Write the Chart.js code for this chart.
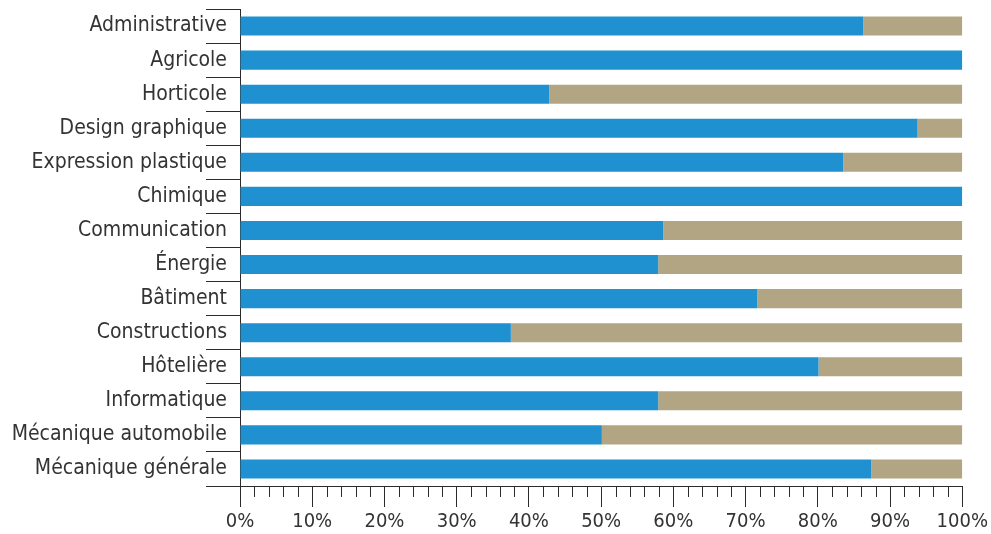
<!DOCTYPE html>
<html lang="fr">
<head>
    <meta charset="UTF-8">
    <title>Répartition par filière</title>
    <script src="https://cdn.jsdelivr.net/npm/chart.js"></script>
    <style>
        body { margin: 0; background: #fff; }
        #wrap { width: 991px; height: 534px; }
    </style>
</head>
<body>
    <div id="wrap"><canvas id="chart"></canvas></div>

    <script>
        const categories = [
            'Administrative', 'Agricole', 'Horticole', 'Design graphique',
            'Expression plastique', 'Chimique', 'Communication', 'Énergie',
            'Bâtiment', 'Constructions', 'Hôtelière', 'Informatique',
            'Mécanique automobile', 'Mécanique générale'
        ];
        const blueValues = [86.3, 100, 42.8, 93.8, 83.5, 100, 58.6, 57.9, 71.6, 37.5, 80.1, 57.9, 50.1, 87.4];
        const tanValues  = [13.7, 0, 57.2, 6.2, 16.5, 0, 41.4, 42.1, 28.4, 62.5, 19.9, 42.1, 49.9, 12.6];
        const xTickLabels = ['0%', '10%', '20%', '30%', '40%', '50%', '60%', '70%', '80%', '90%', '100%'];

        const FONT = "'Liberation Sans Narrow', 'DejaVu Sans Condensed', sans-serif";
        const AXIS = '#2b2b2b';

        // minor ticks every 2% are shorter than the major ones
        const minorTicks = {
            id: 'minorTicks',
            afterDraw(chart) {
                const x = chart.scales.x;
                const ctx = chart.ctx;
                const top = chart.chartArea.bottom;
                ctx.save();
                ctx.strokeStyle = AXIS;
                ctx.lineWidth = 1;
                for (let v = 0; v <= 100; v += 2) {
                    if (v % 10 === 0) continue;
                    const px = Math.round(x.getPixelForValue(v)) + 0.5;
                    ctx.beginPath();
                    ctx.moveTo(px, top);
                    ctx.lineTo(px, top + 11);
                    ctx.stroke();
                }
                ctx.restore();
            }
        };

        new Chart(document.getElementById('chart'), {
            type: 'bar',
            data: {
                labels: categories,
                datasets: [
                    { data: blueValues, backgroundColor: '#1f91d0', barPercentage: 0.56, categoryPercentage: 1 },
                    { data: tanValues, backgroundColor: '#b2a584', barPercentage: 0.56, categoryPercentage: 1 }
                ]
            },
            options: {
                indexAxis: 'y',
                responsive: true,
                maintainAspectRatio: false,
                animation: false,
                layout: { padding: { top: 9, right: 26 } },
                plugins: { legend: { display: false }, tooltip: { enabled: false } },
                scales: {
                    x: {
                        stacked: true,
                        min: 0,
                        max: 100,
                        border: { color: AXIS, width: 1 },
                        grid: {
                            drawOnChartArea: false,
                            tickLength: 21,
                            tickColor: ctx => (ctx.tick && ctx.tick.value % 10 === 0) ? AXIS : 'rgba(0,0,0,0)'
                        },
                        ticks: {
                            stepSize: 2,
                            autoSkip: false,
                            maxRotation: 0,
                            padding: 3,
                            color: '#333',
                            font: { family: FONT, size: 20 },
                            callback: v => (v % 10 === 0) ? xTickLabels[v / 10] : ''
                        },
                        afterFit(scale) { scale.height = 48; }
                    },
                    y: {
                        stacked: true,
                        border: { color: AXIS, width: 1 },
                        grid: {
                            offset: true,
                            drawOnChartArea: false,
                            tickLength: 34,
                            tickColor: AXIS
                        },
                        ticks: {
                            padding: -21,
                            color: '#333',
                            font: { family: FONT, size: 21 }
                        },
                        afterFit(scale) { scale.width = 240; }
                    }
                }
            },
            plugins: [minorTicks]
        });
    </script>
</body>
</html>
